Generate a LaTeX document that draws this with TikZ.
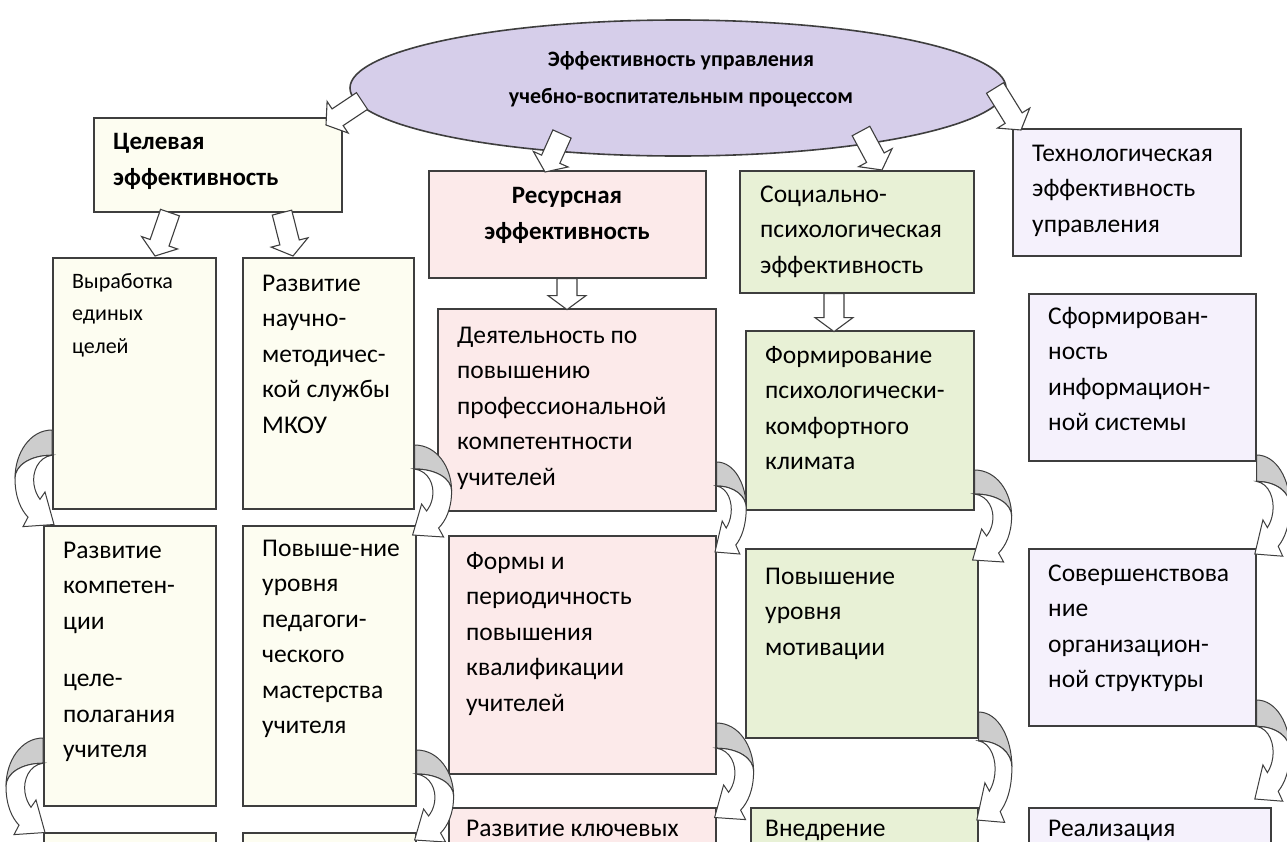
\documentclass[tikz,border=0pt]{standalone}
\usepackage{fontspec}
\setmainfont{Carlito}
\usetikzlibrary{calc,shapes.geometric}
\definecolor{bordc}{RGB}{62,62,62}
\definecolor{ellc}{RGB}{214,206,234}
\definecolor{yelc}{RGB}{253,253,241}
\definecolor{pinkc}{RGB}{252,234,234}
\definecolor{greenc}{RGB}{232,241,214}
\definecolor{lavc}{RGB}{245,241,252}
\definecolor{cgray}{RGB}{205,205,205}
\newcommand{\fl}{\rule{0pt}{20pt}}
\newcommand{\bx}[6]{\node[box,fill=#2,minimum width={#5-#3},minimum height={#6-#4}] (#1) at (#3,#4) {};}
\newcommand{\blockarr}[2]{%
  \coordinate (ba) at (#1); \coordinate (bb) at (#2);
  \coordinate (bh) at ($(bb)!14pt!(ba)$);
  \filldraw[blk] ($(ba)!10pt!90:(bb)$) -- ($(bh)!10pt!90:(bb)$) -- ($(bh)!19pt!90:(bb)$) -- (bb)
    -- ($(bh)!19pt!-90:(bb)$) -- ($(bh)!10pt!-90:(bb)$) -- ($(ba)!10pt!-90:(bb)$) -- cycle;}
\tikzset{
  box/.style={draw=bordc,line width=1.6pt,inner sep=0pt,anchor=north west},
  txt/.style={anchor=north west,inner sep=0pt,align=left,font=\fontsize{25.5}{35.5}\selectfont},
  btxt/.style={anchor=north west,inner sep=0pt,align=left,font=\fontsize{25}{36.5}\selectfont\bfseries},
  blk/.style={fill=white,draw=bordc,line width=1.1pt,line join=miter},
  carrow/.pic={
    \filldraw[fill=cgray,draw=bordc,line width=1pt] (0,0) .. controls (22,0) and (37,22) .. (37,46)
      .. controls (37,34) and (22,24) .. (0,24) -- cycle;
    \filldraw[fill=white,draw=bordc,line width=1pt] (0,24) .. controls (22,24) and (37,34) .. (37,46)
      .. controls (37,64) and (31,76) .. (24,83) -- (29,92) -- (-2,90) -- (7,59) -- (12,66)
      .. controls (15,62) and (17,58) .. (18,52) .. controls (20,40) and (14,26) .. (0,24) -- cycle;
  }
}
\begin{document}
\begin{tikzpicture}[x=1pt,y=-1pt]
\useasboundingbox (0,0) rectangle (1287,841);
\clip (0,0) rectangle (1287,841);
\fill[white] (0,0) rectangle (1287,841);
% top level boxes
\bx{cel}{yelc}{93}{117}{341}{211}
\bx{res}{pinkc}{428}{170}{705}{277}
\bx{soc}{greenc}{739}{170}{973}{292}
\bx{tech}{lavc}{1012}{128}{1240}{255}
% row 2
\bx{b1}{yelc}{52}{257}{215}{508}
\bx{b2}{yelc}{242}{257}{413}{508}
\bx{b3}{pinkc}{437}{308}{715}{510}
\bx{b4}{greenc}{745}{330}{973}{509}
\bx{b5}{lavc}{1028}{293}{1255}{460}
% row 3
\bx{c1}{yelc}{43}{525}{215}{805}
\bx{c2}{yelc}{242}{525}{415}{805}
\bx{c3}{pinkc}{448}{535}{715}{773}
\bx{c4}{greenc}{745}{548}{977}{737}
\bx{c5}{lavc}{1028}{548}{1255}{725}
% row 4
\bx{d1}{yelc}{43}{832}{215}{880}
\bx{d2}{yelc}{242}{832}{415}{880}
\bx{d3}{pinkc}{448}{807}{715}{880}
\bx{d4}{greenc}{750}{807}{977}{880}
\bx{d5}{lavc}{1028}{807}{1270}{880}
% ellipse
\node[ellipse,draw=bordc,line width=1.6pt,fill=ellc,minimum width=656pt,minimum height=136pt,inner sep=0pt] (ell) at (678,88) {};
\node[inner sep=0pt,align=center,font=\fontsize{22}{37}\selectfont\bfseries] (ellt) at (681,79) {Эффективность управления\\учебно-воспитательным процессом};
% block arrows
\blockarr{362,101}{326,125}
\blockarr{562,134}{545,172}
\blockarr{861,131}{882,170}
\blockarr{995,88}{1021,130}
\blockarr{$(cel.south west)+(77,0)$}{$(b1.north west)+(103,-1)$}
\blockarr{$(cel.south west)+(189,0)$}{$(b2.north west)+(51,-1)$}
\blockarr{$(res.south west)+(139,0)$}{$(res.south west)+(139,31)$}
\blockarr{$(soc.south west)+(95,0)$}{$(soc.south west)+(95,38)$}
% curved arrows
\pic[xscale=-1,yscale=1.05] at ($(b1.north west)+(0,173)$) {carrow};
\pic[yscale=1.0] at ($(b2.north east)+(0,188)$) {carrow};
\pic[xscale=-1,yscale=1.05] at ($(c1.north west)+(0,213)$) {carrow};
\pic[yscale=1.0] at ($(c2.north east)+(0,225)$) {carrow};
\pic[xscale=0.8] at ($(b3.north east)+(0,154)$) {carrow};
\pic[yscale=1.05] at ($(c3.north east)+(0,188)$) {carrow};
\pic at ($(b4.north east)+(0,140)$) {carrow};
\pic[xscale=0.9,yscale=1.2] at ($(c4.north east)+(0,164)$) {carrow};
\pic[xscale=0.9,yscale=1.1] at ($(b5.north east)+(0,162)$) {carrow};
\pic[xscale=0.9,yscale=1.1] at ($(c5.north east)+(0,152)$) {carrow};
% texts
\node[btxt] (tcel) at (113,129) {\fl Целевая\\эффективность};
\node[btxt,anchor=north,align=center] (tres) at (567,183) {\fl Ресурсная\\эффективность};
\node[txt] (tsoc) at (760,182) {\fl Социально-\\психологическая\\эффективность};
\node[txt] (ttech) at (1032,141) {\fl Технологическая\\эффективность\\управления};
\node[txt,font=\fontsize{22}{32.5}\selectfont] (t1) at (72,268) {\fl Выработка\\единых\\целей};
\node[txt] (t2) at (262,271) {\fl Развитие\\научно-\\методичес-\\кой службы\\МКОУ};
\node[txt] (t3) at (457,323) {\fl Деятельность по\\повышению\\профессиональной\\компетентности\\учителей};
\node[txt] (t4) at (765,343) {\fl Формирование\\психологически-\\комфортного\\климата};
\node[txt] (t5) at (1048,304) {\fl Сформирован-\\ность\\информацион-\\ной системы};
\node[txt] (t6) at (63,538) {\fl Развитие\\компетен-\\ции\\[22pt]целе-\\полагания\\учителя};
\node[txt] (t7) at (262,536) {\fl Повыше-ние\\уровня\\педагоги-\\ческого\\мастерства\\учителя};
\node[txt] (t8) at (466,549) {\fl Формы и\\периодичность\\повышения\\квалификации\\учителей};
\node[txt] (t9) at (765,564) {\fl Повышение\\уровня\\мотивации};
\node[txt] (t10) at (1048,561) {\fl Совершенствова\\ние\\организацион-\\ной структуры};
\node[txt] (t11) at (466,816) {\fl Развитие ключевых};
\node[txt] (t12) at (765,816) {\fl Внедрение};
\node[txt] (t13) at (1048,816) {\fl Реализация};
\end{tikzpicture}
\end{document}
